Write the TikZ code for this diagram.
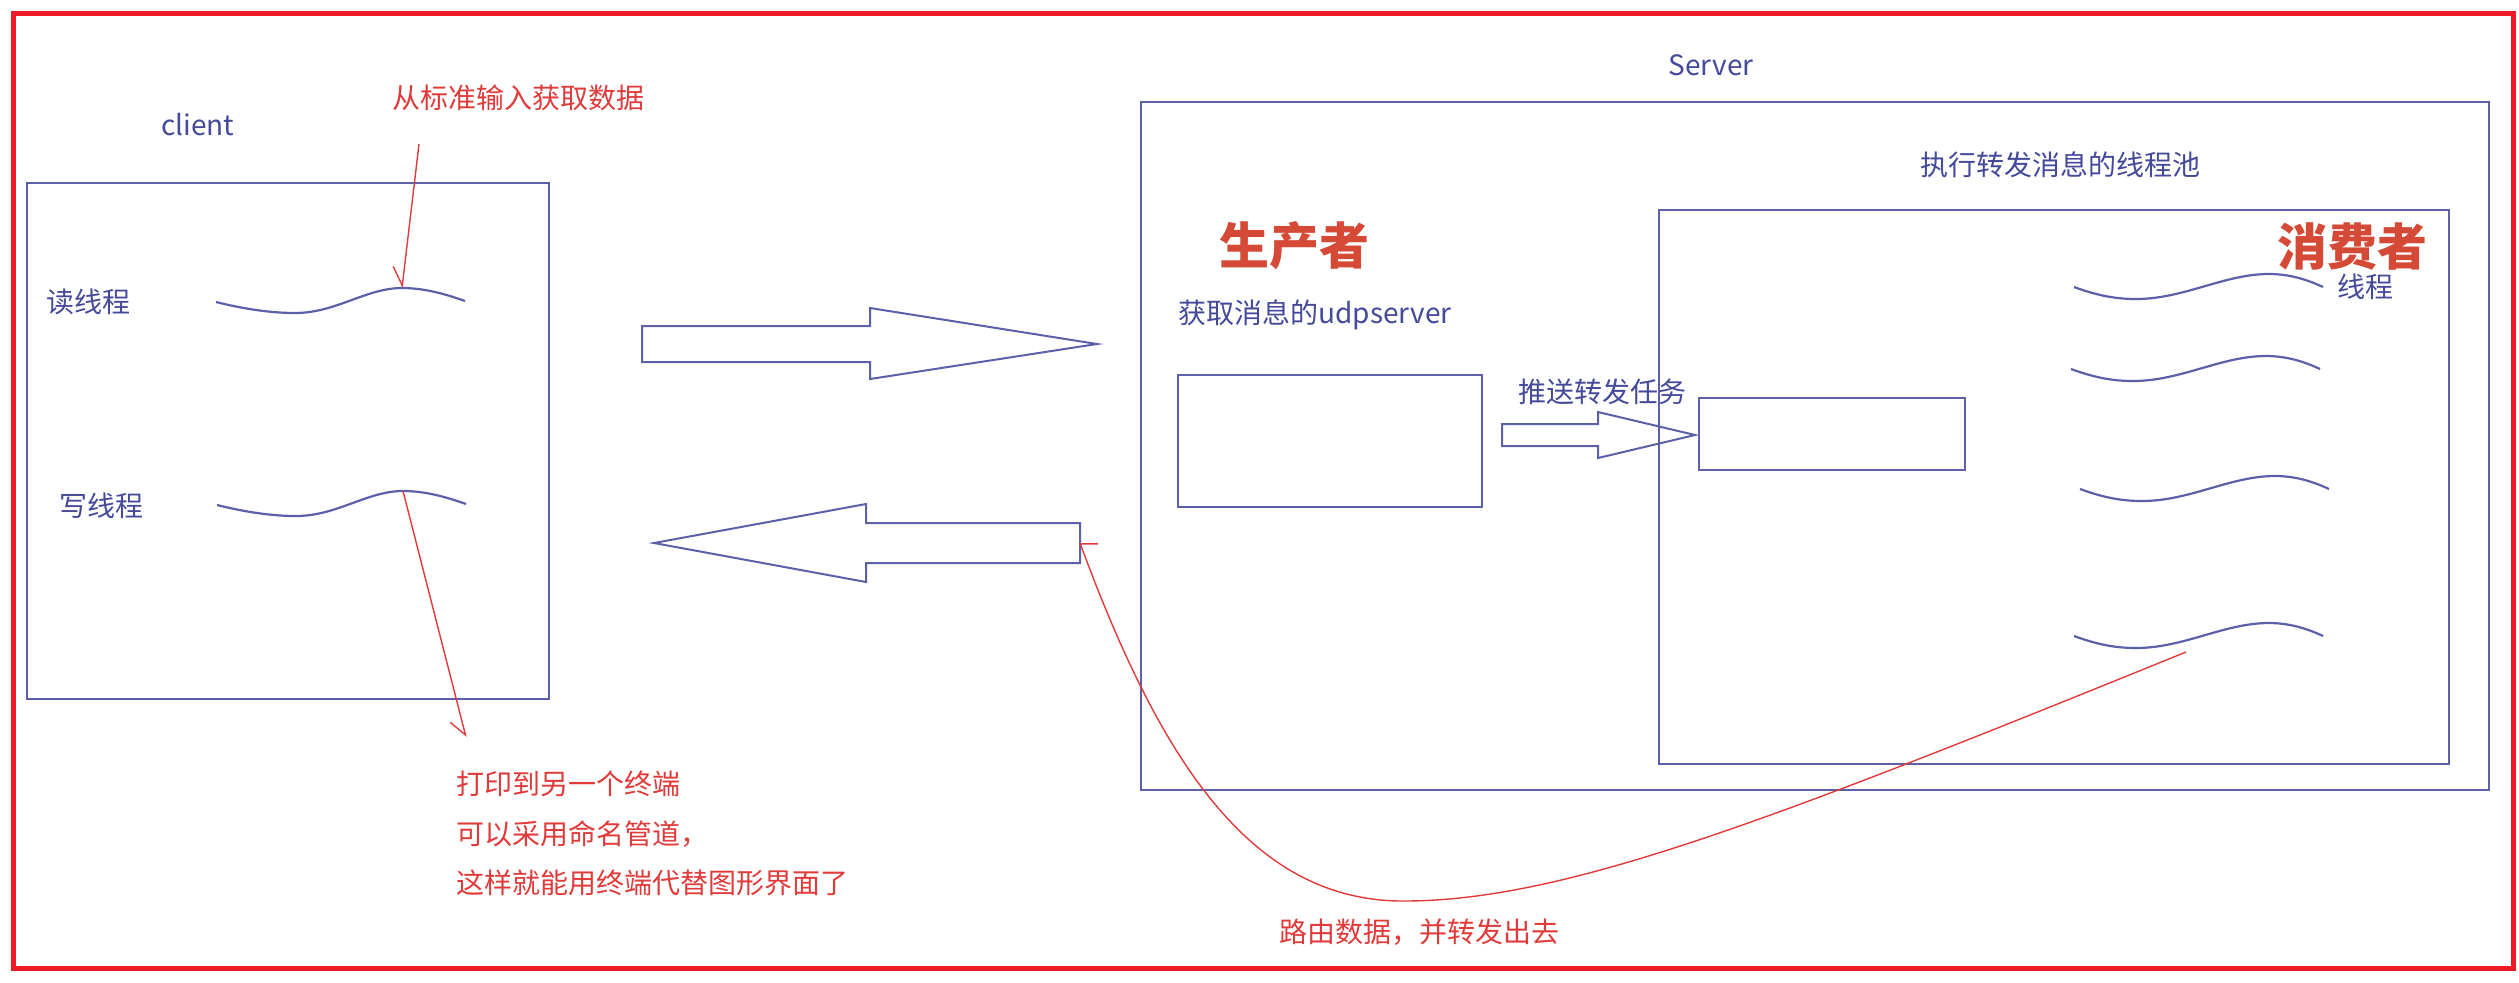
\documentclass[tikz,border=0pt]{standalone}
\usepackage{fontspec}
\setmainfont{Noto Sans CJK SC}
\usetikzlibrary{arrows.meta,fit}
\definecolor{bl}{HTML}{5B60A8}
\definecolor{bltext}{HTML}{44499A}
\definecolor{rd}{HTML}{E03A3A}
\definecolor{frame}{HTML}{ED1C24}
\definecolor{hotc}{HTML}{D44A36}
\begin{document}
\begin{tikzpicture}[x=0.5pt,y=-0.5pt,
  box/.style={draw=bl, line width=1pt, inner sep=0pt},
  bigarrow/.style={draw=bl, line width=1pt, line join=miter},
  wavel/.style={draw=bl, line width=1.1pt},
  lbl/.style={text=bltext, font=\fontsize{14pt}{16pt}\selectfont, inner sep=0pt},
  note/.style={text=rd, font=\fontsize{14pt}{16pt}\selectfont, inner sep=0pt},
  hot/.style={text=hotc, font=\fontsize{25pt}{28pt}\selectfont\bfseries, inner sep=0pt},
  redline/.style={draw=rd, line width=0.7pt},
  clientwave/.pic={\draw[wavel] (0,0) .. controls (28,7) and (55,11) .. (79,11) .. controls (120,11) and (150,-14) .. (186,-14) .. controls (210,-14) and (232,-7) .. (249,-1);},
  poolwave/.pic={\draw[wavel] (0,0) .. controls (22,8) and (40,12) .. (62,12) .. controls (110,12) and (150,-13) .. (195,-13) .. controls (218,-13) and (236,-6) .. (249,0);}
]
\useasboundingbox (0,0) rectangle (2519,982);
\draw[frame, line width=2.5pt] (13.5,13) rectangle (2513,968.5);

% client side
\node[box, fit={(27,183) (549,699)}] (client) {};
\node[lbl] (clientlbl) at (198,125) {client};
\node[lbl] (readlbl) at (88,302) {读线程};
\node[lbl] (writelbl) at (101,506) {写线程};
\pic at (216,302) {clientwave};
\pic at (217,505) {clientwave};
\coordinate (readpeak) at (402,288);
\coordinate (writepeak) at (403,491);

\node[note] (stdin) at (518,98) {从标准输入获取数据};
\coordinate (stdinfoot) at (419,144);
\draw[redline, -{Straight Barb[length=9pt, angle'=64, harpoon, swap]}] (stdinfoot) -- (readpeak);

\node[note, anchor=west] (n1) at (456,784) {打印到另一个终端};
\node[note, anchor=west] (n2) at (456,834) {可以采用命名管道，};
\node[note, anchor=west] (n3) at (456,883) {这样就能用终端代替图形界面了};
\coordinate (printtip) at (466,737);
\draw[redline, -{Straight Barb[length=8pt, angle'=72, harpoon, swap]}] (writepeak) -- (printtip);

% big arrows
\draw[bigarrow] (642,326) -- (870,326) -- (870,308) -- (1097,344) -- (870,379) -- (870,362) -- (642,362) -- cycle;
\draw[bigarrow] (1080,523) -- (866,523) -- (866,504) -- (654,543) -- (866,582) -- (866,563) -- (1080,563) -- cycle;
\coordinate (retend) at (1080,543);

% server
\node[lbl] (serverlbl) at (1711,65) {Server};
\node[box, fit={(1141,102) (2489,790)}] (server) {};
\node[hot] (producer) at (1294,246) {生产者};
\node[lbl] (udplbl) at (1315,315) {获取消息的udpserver};
\node[box, fit={(1178,375) (1482,507)}] (udpbox) {};

\node[lbl] (poollbl) at (2060,165) {执行转发消息的线程池};
\node[box, fit={(1659,210) (2449,764)}] (pool) {};
\node[hot] (consumer) at (2352,246) {消费者};
\node[lbl] (threadlbl) at (2365,287) {线程};
\node[box, fit={(1699,398) (1965,470)}] (taskbox) {};

\node[lbl] (pushlbl) at (1602,392) {推送转发任务};
\draw[bigarrow] (1502,424) -- (1598,424) -- (1598,412) -- (1695,435) -- (1598,458) -- (1598,446) -- (1502,446) -- cycle;

\pic at (2074,287) {poolwave};
\pic at (2071,369) {poolwave};
\pic at (2080,489) {poolwave};
\pic at (2074,636) {poolwave};
\coordinate (routestart) at (2186,652);

\draw[redline, -{Straight Barb[length=3pt, angle'=140, harpoon, swap]}] (routestart) .. controls (1760,825) and (1560,902) .. (1400,901) .. controls (1250,899) and (1160,760) .. (retend);
\node[note] (routelbl) at (1419,932) {路由数据，并转发出去};
\end{tikzpicture}
\end{document}
